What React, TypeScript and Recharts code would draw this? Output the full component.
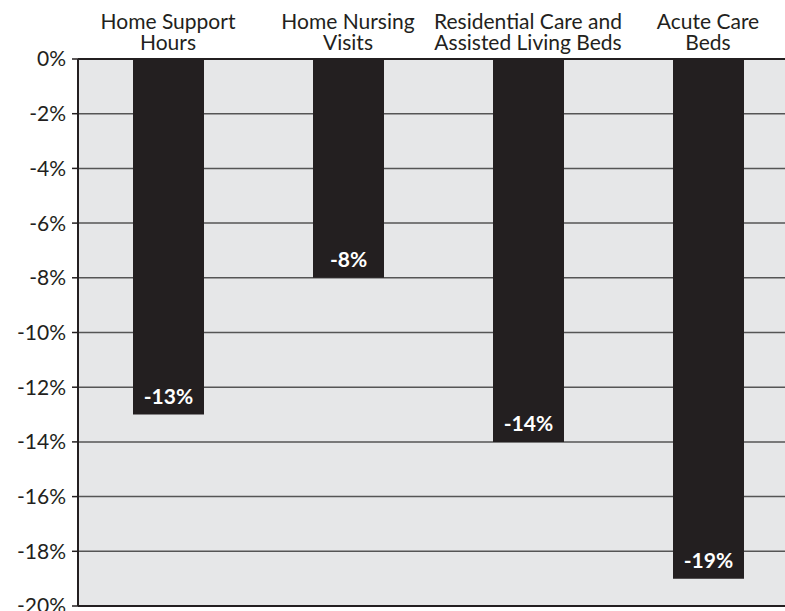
import { BarChart, Bar, XAxis, YAxis, CartesianGrid, ReferenceLine, LabelList } from "recharts";

// Change by service type (percent)
const categories = [
  "Home Support\nHours",
  "Home Nursing\nVisits",
  "Residential Care and\nAssisted Living Beds",
  "Acute Care\nBeds",
];
const changes = [-13, -8, -14, -19];
const yTicks = [0, -2, -4, -6, -8, -10, -12, -14, -16, -18, -20];

const INK = "#231f20";
const FONT = "Lato, 'Open Sans', sans-serif";

const data = categories.map((c, i) => ({ category: c, change: changes[i] }));

// two-line category label above the plot
function CategoryTick(props: any) {
  const { x, y, payload } = props;
  const lines = String(payload.value).split("\n");
  return (
    <text x={x} y={y} textAnchor="middle" fill={INK} fontSize={21} fontFamily={FONT}>
      {lines.map((l, i) => (
        <tspan key={i} x={x} y={y - 30 + i * 21}>
          {l}
        </tspan>
      ))}
    </text>
  );
}

// white value label sitting at the bottom end of each bar
function ValueLabel(props: any) {
  const { x, y, width, height, value } = props;
  const bottom = Math.max(Number(y), Number(y) + Number(height));
  return (
    <text
      x={Number(x) + Number(width) / 2}
      y={bottom - 11}
      textAnchor="middle"
      fill="#ffffff"
      fontSize={21}
      fontWeight={700}
      fontFamily={FONT}
    >
      {value}%
    </text>
  );
}

export default function App() {
  return (
    <div
      style={{
        position: "absolute",
        left: 0,
        top: 0,
        width: 785,
        height: 611,
        overflow: "hidden",
        background: "#ffffff",
      }}
    >
      <BarChart
        width={798}
        height={611}
        data={data}
        margin={{ top: 0, right: 0, left: 0, bottom: 5 }}
      >
        <CartesianGrid
          vertical={false}
          fill="#e6e7e8"
          stroke="#555555"
          strokeWidth={1.5}
        />
        <XAxis
          dataKey="category"
          orientation="top"
          height={59}
          interval={0}
          tickLine={false}
          tickSize={0}
          tickMargin={0}
          axisLine={{ stroke: INK, strokeWidth: 2 }}
          tick={<CategoryTick />}
        />
        <YAxis
          width={78}
          domain={[-20, 0]}
          ticks={yTicks}
          interval={0}
          tickFormatter={(v) => `${v}%`}
          tickSize={6}
          tickMargin={6}
          tickLine={{ stroke: INK, strokeWidth: 1.5 }}
          axisLine={{ stroke: INK, strokeWidth: 2 }}
          tick={{ fill: INK, fontSize: 21, fontFamily: FONT }}
        />
        <Bar dataKey="change" fill={INK} barSize={71} isAnimationActive={false}>
          <LabelList dataKey="change" content={<ValueLabel />} />
        </Bar>
        <ReferenceLine y={-20} stroke={INK} strokeWidth={2} />
      </BarChart>
    </div>
  );
}
